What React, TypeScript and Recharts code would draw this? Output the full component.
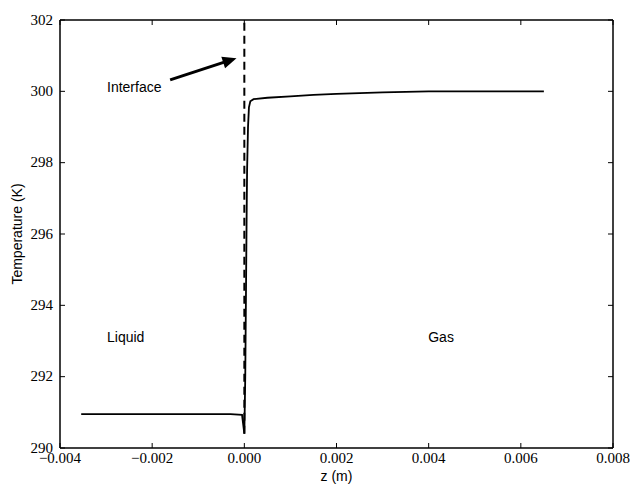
import React from 'react';
import { LineChart, Line, XAxis, YAxis, ReferenceLine, ReferenceDot } from 'recharts';

const zValues = [-0.00354, -0.002, -0.001, -0.0003, -0.00005, 0.0, 0.00002, 0.00004, 0.00005, 0.00006, 0.00008, 0.0001, 0.00013, 0.0002, 0.0005, 0.001, 0.0015, 0.002, 0.003, 0.004, 0.005, 0.0065];
const temperatureValues = [290.95, 290.95, 290.95, 290.95, 290.93, 290.4, 292.0, 295.0, 296.5, 297.8, 299.0, 299.55, 299.72, 299.78, 299.82, 299.86, 299.9, 299.93, 299.97, 300.0, 300.0, 300.0];
const xTicks = [-0.004, -0.002, 0.0, 0.002, 0.004, 0.006, 0.008];
const yTicks = [290, 292, 294, 296, 298, 300, 302];
const interfaceLine = { z: 0, tMin: 290.4, tMax: 302 };
const arrow = { fromZ: -0.00161, fromT: 300.32, toZ: -0.00017, toT: 300.93 };
const annotations = [
  { text: 'Interface', z: -0.00298, t: 300.12 },
  { text: 'Liquid', z: -0.00298, t: 293.11 },
  { text: 'Gas', z: 0.00399, t: 293.11 },
];

const data = zValues.map((z, i) => ({ z, T: temperatureValues[i] }));

const fmtX = (v: number) => (v < 0 ? '\u2212' + Math.abs(v).toFixed(3) : v.toFixed(3));

const serif = "'Liberation Serif', 'Times New Roman', serif";
const sans = "'Liberation Sans', Arial, sans-serif";
const TICK_LEN = 5;
const X_MARGIN = 4;
const Y_MARGIN = 7;

const BottomTick = (props: any) => {
  const { x, y, payload } = props;
  const axisY = y - X_MARGIN;
  return (
    <g>
      <line x1={x} x2={x} y1={axisY} y2={axisY - TICK_LEN} stroke="#000" strokeWidth={1} />
      <text x={x} y={y} dy="0.72em" textAnchor="middle" fontFamily={serif} fontSize={15} fill="#000">
        {fmtX(payload.value)}
      </text>
    </g>
  );
};

const LeftTick = (props: any) => {
  const { x, y, payload } = props;
  const axisX = x + Y_MARGIN;
  return (
    <g>
      <line x1={axisX} x2={axisX + TICK_LEN} y1={y} y2={y} stroke="#000" strokeWidth={1} />
      <text x={x} y={y} dy="0.3em" textAnchor="end" fontFamily={serif} fontSize={15} fill="#000">
        {payload.value}
      </text>
    </g>
  );
};

const TopTick = (props: any) => {
  const { x, y } = props;
  return <line x1={x} x2={x} y1={y} y2={y + TICK_LEN} stroke="#000" strokeWidth={1} />;
};

const RightTick = (props: any) => {
  const { x, y } = props;
  return <line x1={x} x2={x - TICK_LEN} y1={y} y2={y} stroke="#000" strokeWidth={1} />;
};

const ArrowShape = (props: any) => {
  const { x1, y1, x2, y2 } = props;
  const dx = x2 - x1;
  const dy = y2 - y1;
  const len = Math.sqrt(dx * dx + dy * dy);
  const ux = dx / len;
  const uy = dy / len;
  const headLen = 14;
  const headW = 6;
  const bx = x2 - ux * headLen;
  const by = y2 - uy * headLen;
  const px = -uy;
  const py = ux;
  return (
    <g>
      <line x1={x1} y1={y1} x2={bx + ux * 2} y2={by + uy * 2} stroke="#000" strokeWidth={3} />
      <polygon
        points={`${x2},${y2} ${bx + px * headW},${by + py * headW} ${bx - px * headW},${by - py * headW}`}
        fill="#000"
      />
    </g>
  );
};

const makeText = (text: string) => (props: any) => (
  <text x={props.cx} y={props.cy} dy="0.35em" textAnchor="start" fontFamily={sans} fontSize={14} fill="#000">
    {text}
  </text>
);

export default function App() {
  return (
    <div style={{ position: 'absolute', left: 0, top: 0, width: 630, height: 486, background: '#fff' }}>
      <LineChart width={630} height={486} data={data} margin={{ top: 0, right: 0, bottom: 0, left: 0 }}>
        <XAxis
          dataKey="z"
          type="number"
          domain={[-0.004, 0.008]}
          ticks={xTicks}
          height={38}
          tickSize={0}
          tickMargin={X_MARGIN}
          tickLine={false}
          axisLine={{ stroke: '#000', strokeWidth: 1.5 }}
          tick={BottomTick}
          interval={0}
          allowDataOverflow
          label={{ value: 'z (m)', position: 'insideBottom', offset: 5, style: { fontFamily: sans, fontSize: 14, fill: '#000' } }}
        />
        <XAxis
          xAxisId="top"
          orientation="top"
          dataKey="z"
          type="number"
          domain={[-0.004, 0.008]}
          ticks={xTicks}
          height={20}
          tickSize={0}
          tickMargin={0}
          tickLine={false}
          tick={TopTick}
          axisLine={{ stroke: '#000', strokeWidth: 1.5 }}
          interval={0}
          allowDataOverflow
        />
        <YAxis
          type="number"
          domain={[290, 302]}
          ticks={yTicks}
          width={60}
          tickSize={0}
          tickMargin={Y_MARGIN}
          tickLine={false}
          axisLine={{ stroke: '#000', strokeWidth: 1.5 }}
          tick={LeftTick}
          interval={0}
          allowDataOverflow
          label={{ value: 'Temperature (K)', angle: -90, position: 'insideLeft', offset: 17, style: { fontFamily: sans, fontSize: 14, fill: '#000', textAnchor: 'middle' } }}
        />
        <YAxis
          yAxisId="right"
          orientation="right"
          type="number"
          domain={[290, 302]}
          ticks={yTicks}
          width={17}
          tickSize={0}
          tickMargin={0}
          tickLine={false}
          tick={RightTick}
          axisLine={{ stroke: '#000', strokeWidth: 1.5 }}
          interval={0}
          allowDataOverflow
        />
        <ReferenceLine
          segment={[{ x: interfaceLine.z, y: interfaceLine.tMin }, { x: interfaceLine.z, y: interfaceLine.tMax }]}
          stroke="#000"
          strokeWidth={2}
          strokeDasharray="8 5"
        />
        <Line
          type="linear"
          dataKey="T"
          stroke="#000"
          strokeWidth={1.8}
          dot={false}
          isAnimationActive={false}
        />
        <ReferenceLine
          segment={[{ x: arrow.fromZ, y: arrow.fromT }, { x: arrow.toZ, y: arrow.toT }]}
          shape={ArrowShape}
        />
        {annotations.map((a) => (
          <ReferenceDot key={a.text} x={a.z} y={a.t} r={0} shape={makeText(a.text)} />
        ))}
      </LineChart>
    </div>
  );
}
